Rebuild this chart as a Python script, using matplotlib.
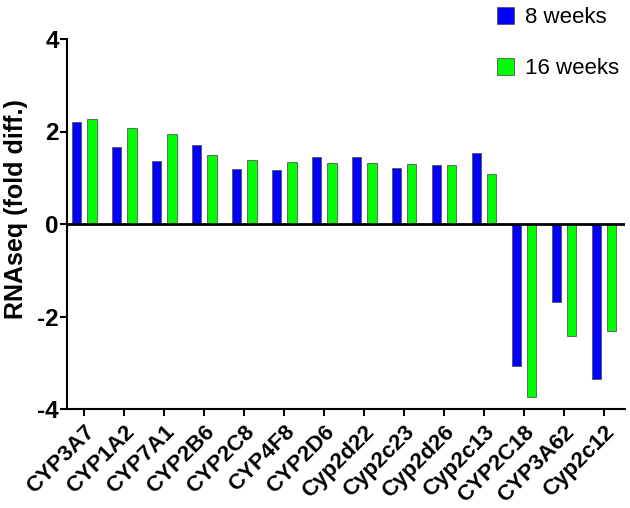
import matplotlib
matplotlib.use("Agg")
import matplotlib.pyplot as plt
import numpy as np
from matplotlib.patches import Patch

plt.rcParams['font.family'] = ['Liberation Sans', 'DejaVu Sans']

categories = ["CYP3A7", "CYP1A2", "CYP7A1", "CYP2B6", "CYP2C8", "CYP4F8", "CYP2D6",
              "Cyp2d22", "Cyp2c23", "Cyp2d26", "Cyp2c13", "CYP2C18", "CYP3A62", "Cyp2c12"]
weeks8 = [2.20, 1.66, 1.37, 1.71, 1.20, 1.16, 1.45, 1.44, 1.21, 1.27, 1.53, -3.06, -1.69, -3.35]
weeks16 = [2.26, 2.07, 1.95, 1.49, 1.38, 1.35, 1.31, 1.31, 1.29, 1.28, 1.09, -3.75, -2.42, -2.31]
series_labels = ["8 weeks", "16 weeks"]
yticks = [-4, -2, 0, 2, 4]

blue = "#0000FF"
green = "#00FF00"

fig = plt.figure(figsize=(6.3, 5.08), dpi=100)
ax = fig.add_axes([67/630, (508-409)/508, 558/630, 370/508])

x = np.arange(len(categories))
w = 0.245
off = 0.19
ax.bar(x - off, weeks8, w, color=blue, edgecolor="#555555", linewidth=0.6, zorder=2)
ax.bar(x + off, weeks16, w, color=green, edgecolor="#555555", linewidth=0.6, zorder=2)

ax.axhline(0, color="black", linewidth=2, zorder=3)
ax.set_xlim(-0.425, 13.525)
ax.set_ylim(-4, 4)
ax.set_yticks(yticks)
ax.set_yticklabels([str(v) for v in yticks], fontsize=17.5, fontweight="bold")
ax.set_xticks(x)
ax.set_xticklabels(categories, rotation=45, ha="right", rotation_mode="anchor",
                   fontsize=16, fontweight="bold")
ax.tick_params(axis="both", direction="out", length=5, width=1.5, color="black")
ax.tick_params(axis="y", pad=1)
ax.tick_params(axis="x", pad=4)
for s in ["top", "right"]:
    ax.spines[s].set_visible(False)
for s in ["left", "bottom"]:
    ax.spines[s].set_linewidth(1.5)
ax.set_ylabel("RNAseq (fold diff.)", fontsize=18, fontweight="bold")
ax.yaxis.set_label_coords(-0.07, 0.54)

handles = [Patch(facecolor=blue, edgecolor="#555555", linewidth=0.6),
           Patch(facecolor=green, edgecolor="#555555", linewidth=0.6)]
fig.legend(handles, series_labels, loc="upper left", bbox_to_anchor=(497/630, 1 - 7/508),
           frameon=False, fontsize=16, handlelength=0.78, handleheight=0.78,
           labelspacing=1.35, handletextpad=0.5, borderaxespad=0, borderpad=0)

fig.savefig("out.png", dpi=100)
